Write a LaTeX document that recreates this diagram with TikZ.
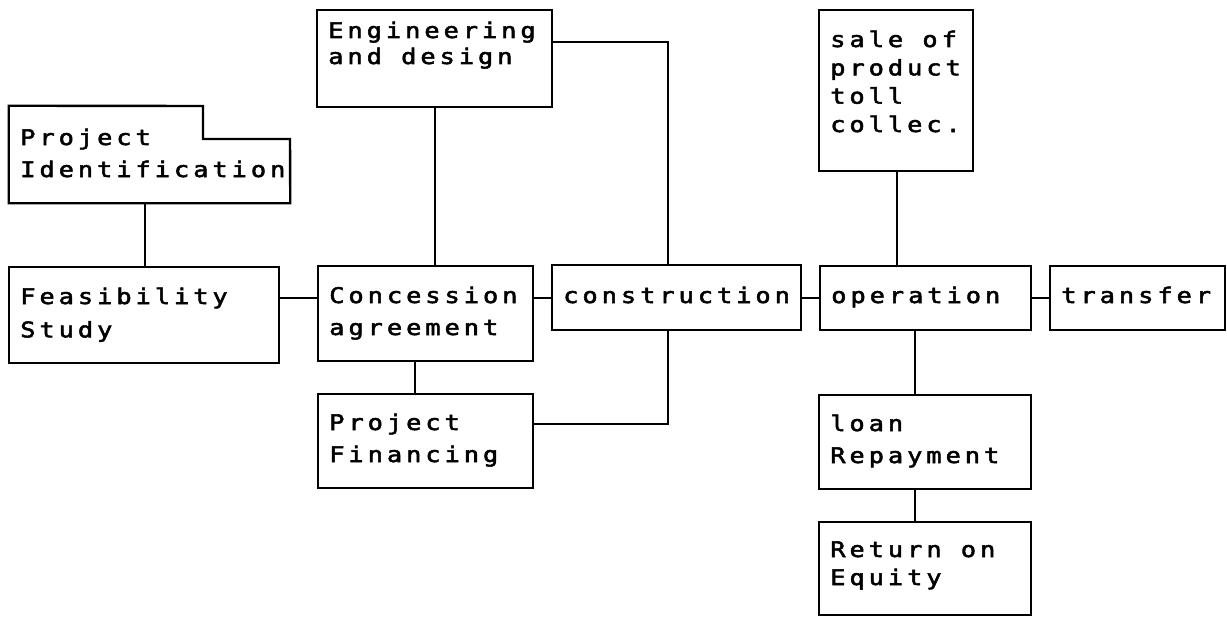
\documentclass[tikz,border=0pt]{standalone}
\usepackage{fontspec}
\newfontfamily\plotfont[FakeStretch=1.18,FakeBold=2.4,LetterSpace=18.5]{DejaVu Sans Mono}
\usetikzlibrary{fit}
% stacked lines of text whose baseline is that of the first line
\newcommand\textlines[2]{\vtop{\baselineskip=#1\relax\lineskiplimit=-100pt\lineskip=0pt\halign{##\hfil\cr#2\crcr}}}

\begin{document}
\begin{tikzpicture}[x=0.75pt,y=-0.75pt,
  box/.style={draw, line width=1.8pt, inner sep=0pt},
  frame/.style={inner sep=0pt},
  link/.style={line width=1.8pt},
  txt/.style={anchor=base west, inner sep=0pt, font=\plotfont\fontsize{16.1pt}{21pt}\selectfont}
]
\useasboundingbox (0,0) rectangle (1227,617);

% boxes
\node[frame, fit={(9,106) (290,203)}] (pid) {};
\draw[link] (pid.north west) -- (203,106) -- (203,139) -- (290,139)
            -- (pid.south east) -- (pid.south west) -- cycle;
\node[box, fit={(9,267) (279,363)}]    (feas)  {};
\node[box, fit={(317,10) (552,107)}]   (eng)   {};
\node[box, fit={(318,266) (533,361)}]  (conc)  {};
\node[box, fit={(318,394) (533,488)}]  (fin)   {};
\node[box, fit={(552,265) (801,330)}]  (cons)  {};
\node[box, fit={(819,10) (973,171)}]   (sale)  {};
\node[box, fit={(820,266) (1031,330)}] (oper)  {};
\node[box, fit={(1050,266) (1225,330)}] (trans) {};
\node[box, fit={(819,395) (1031,489)}] (loan)  {};
\node[box, fit={(819,522) (1031,615)}] (ret)   {};

% texts
\node[txt] (pid-t)   at (20,145)   {\textlines{24pt}{Project\cr Identification}};
\node[txt] (feas-t)  at (20,304)   {\textlines{25pt}{Feasibility\cr Study}};
\node[txt] (eng-t)   at (328,38)   {\textlines{19.5pt}{Engineering\cr and design}};
\node[txt] (conc-t)  at (329,303)  {\textlines{24pt}{Concession\cr agreement}};
\node[txt] (fin-t)   at (329,430)  {\textlines{24pt}{Project\cr Financing}};
\node[txt] (cons-t)  at (563,303)  {construction};
\node[txt] (sale-t)  at (830,47)   {\textlines{21.25pt}{sale of\cr product\cr toll\cr collec.}};
\node[txt] (oper-t)  at (831,303)  {operation};
\node[txt] (trans-t) at (1061,303) {transfer};
\node[txt] (loan-t)  at (830,431)  {\textlines{24pt}{loan\cr Repayment}};
\node[txt] (ret-t)   at (830,557)  {\textlines{21pt}{Return on\cr Equity}};

% guide coordinates for the connectors
\coordinate (row)    at (0,298);
\coordinate (engrow) at (0,42);
\coordinate (finrow) at (0,424);
\coordinate (pidcol) at (145,0);
\coordinate (engcol) at (435,0);
\coordinate (fincol) at (415,0);
\coordinate (bus)    at (668,0);
\coordinate (salecol) at (897,0);
\coordinate (opcol)  at (915,0);

% connectors
\draw[link] (pidcol |- pid.south) -- (pidcol |- feas.north);
\draw[link] (feas.east |- row) -- (conc.west |- row);
\draw[link] (engcol |- eng.south) -- (engcol |- conc.north);
\draw[link] (eng.east |- engrow) -- (bus |- engrow) -- (bus |- cons.north);
\draw[link] (conc.east |- row) -- (cons.west |- row);
\draw[link] (fincol |- conc.south) -- (fincol |- fin.north);
\draw[link] (fin.east |- finrow) -- (bus |- finrow) -- (bus |- cons.south);
\draw[link] (cons.east |- row) -- (oper.west |- row);
\draw[link] (salecol |- sale.south) -- (salecol |- oper.north);
\draw[link] (oper.east |- row) -- (trans.west |- row);
\draw[link] (opcol |- oper.south) -- (opcol |- loan.north);
\draw[link] (opcol |- loan.south) -- (opcol |- ret.north);
\end{tikzpicture}
\end{document}
